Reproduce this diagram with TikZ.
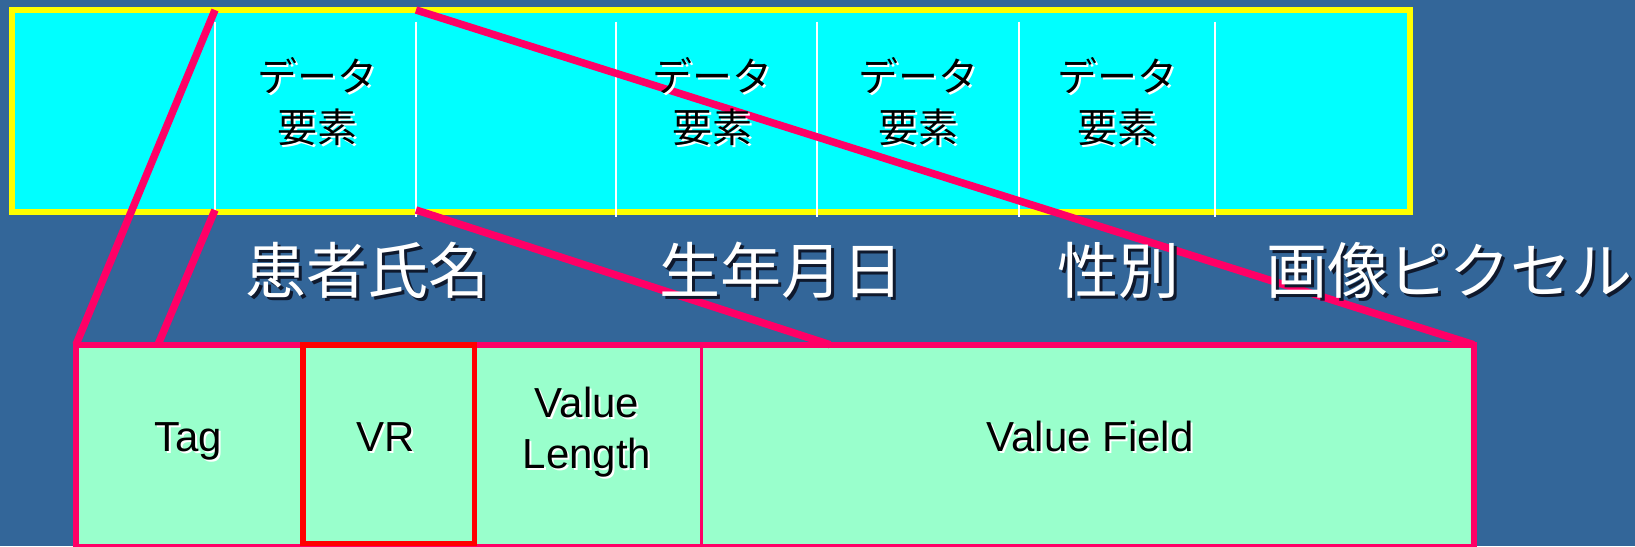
\documentclass[tikz,border=0pt]{standalone}
\usepackage{fontspec}
\setmainfont{Liberation Sans}
\newfontfamily\jpfont{Noto Sans CJK JP}
\definecolor{bg}{RGB}{51,102,153}
\definecolor{cyanfill}{RGB}{0,255,255}
\definecolor{yel}{RGB}{255,255,0}
\definecolor{mag}{RGB}{255,0,102}
\definecolor{mint}{RGB}{153,255,204}
\definecolor{vrred}{RGB}{255,0,0}
\definecolor{shade}{RGB}{15,25,45}
\newcommand\shtxt[3]{\leavevmode\rlap{\kern#2\raisebox{-#2}{\color{#1}#3}}#3}
\begin{document}
\begin{tikzpicture}[x=1pt,y=-1pt,
  topbar/.style={draw=yel, fill=cyanfill, line width=6pt, inner sep=0pt, outer sep=0pt},
  recbar/.style={draw=mag, fill=mint, line width=6pt, inner sep=0pt, outer sep=0pt},
  vrbox/.style={draw=vrred, line width=5.7pt, inner sep=0pt, outer sep=0pt},
  divider/.style={white, line width=2pt},
  fielddiv/.style={mag, line width=3pt},
  link/.style={mag, line width=7.5pt},
  celltxt/.style={inner sep=0pt, align=center, text=black, font=\jpfont\fontsize{40}{51}\selectfont},
  bigtxt/.style={inner sep=0pt, anchor=base, text=white, font=\jpfont\fontsize{61}{66}\selectfont},
  fieldtxt/.style={inner sep=0pt, text=black, font=\fontsize{42}{51}\selectfont}]
\useasboundingbox (0,0) rectangle (1635,546);
\fill[bg] (0,0) rectangle (1635,546);

% top bar of data elements
\node[topbar, minimum width=1397.7pt, minimum height=202pt] (bar) at (710.85,111) {};
\foreach \xx in {215,416,616,817,1019,1215}
  \draw[divider] (\xx,21.7) -- (\xx,217.3);

% bottom bar (one data element)
\node[recbar, minimum width=1397.7pt, minimum height=201.8pt] (rec) at (774.85,445.6) {};
\draw[fielddiv] (701,344.7) -- (701,546.5);
\node[vrbox, minimum width=171.5pt, minimum height=198.8pt] (vr) at (388.75,444.1) {};

% connectors
\coordinate (s1) at (215,10);
\coordinate (s2) at (215,210);
\coordinate (s3) at (416,10);
\coordinate (s4) at (416,210);
\coordinate (e2) at (158,344.7);
\coordinate (e4) at (830,344.7);
\draw[link] (s1) -- (rec.north west);
\draw[link] (s2) -- (e2);
\draw[link] (s3) -- (rec.north east);
\draw[link] (s4) -- (e4);

% cell texts
\node[celltxt] (c1) at (317,102.5) {\shtxt{white}{2pt}{データ}\\\shtxt{white}{2pt}{要素}};
\node[celltxt] (c2) at (712,102.5) {\shtxt{white}{2pt}{データ}\\\shtxt{white}{2pt}{要素}};
\node[celltxt] (c3) at (918,102.5) {\shtxt{white}{2pt}{データ}\\\shtxt{white}{2pt}{要素}};
\node[celltxt] (c4) at (1117,102.5) {\shtxt{white}{2pt}{データ}\\\shtxt{white}{2pt}{要素}};

% labels
\node[bigtxt] (l1) at (367,293.5) {\shtxt{shade}{3pt}{患者氏名}};
\node[bigtxt] (l2) at (781,293.5) {\shtxt{shade}{3pt}{生年月日}};
\node[bigtxt] (l3) at (1118,293.5) {\shtxt{shade}{3pt}{性別}};
\node[bigtxt] (l4) at (1449,293.5) {\shtxt{shade}{3pt}{画像ピクセル}};

% field texts
\node[fieldtxt, anchor=base] (ftag) at (188,451) {\shtxt{white}{2pt}{Tag}};
\node[fieldtxt, anchor=base] (fvr) at (386,451) {\shtxt{white}{2pt}{VR}};
\node[fieldtxt, align=center] (flen) at (587,433) {\shtxt{white}{2pt}{Value}\\\shtxt{white}{2pt}{Length}};
\node[fieldtxt, anchor=base] (fval) at (1090,451) {\shtxt{white}{2pt}{Value Field}};
\end{tikzpicture}
\end{document}
